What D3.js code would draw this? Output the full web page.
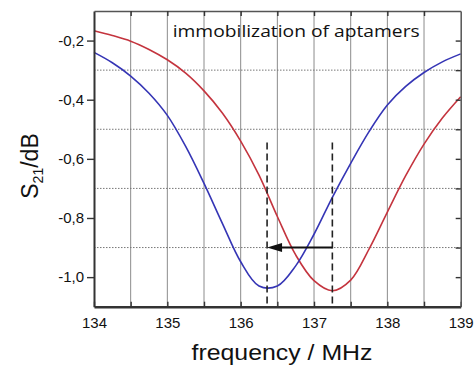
<!DOCTYPE html>
<html>
<head>
<meta charset="utf-8">
<script src="https://cdn.jsdelivr.net/npm/d3@7"></script>
<style>
  body { margin: 0; background: #fff; }
  svg { display: block; }
</style>
</head>
<body>
<svg id="chart" width="475" height="367"></svg>
<script>
// frequency grid (MHz) and transmission values
var freqs = [134, 134.25, 134.5, 134.75, 135, 135.25, 135.5, 135.75, 136, 136.25, 136.5,
             136.75, 137, 137.25, 137.5, 137.75, 138, 138.25, 138.5, 138.75, 139];
// before immobilization (red)
var s21Before = [-0.167, -0.183, -0.202, -0.23, -0.265, -0.31, -0.37, -0.445, -0.54, -0.655, -0.795,
                 -0.925, -1.012, -1.046, -1.01, -0.905, -0.78, -0.657, -0.55, -0.462, -0.39];
// after immobilization of aptamers (blue)
var s21After = [-0.24, -0.275, -0.32, -0.378, -0.453, -0.558, -0.683, -0.818, -0.948, -1.03, -1.03,
                -0.962, -0.855, -0.73, -0.615, -0.508, -0.418, -0.355, -0.308, -0.272, -0.245];

var xTicks = [134, 135, 136, 137, 138, 139];
var yTicks = [-0.2, -0.4, -0.6, -0.8, -1.0];
var hGrid = [-0.3, -0.5, -0.7, -0.9];
var resonances = [136.36, 137.25];   // dashed markers: after, before
var markerTop = -0.545;
var shiftLevel = -0.9;

var svg = d3.select("#chart");
var plotL = 94, plotT = 11, plotR = 460.7, plotB = 306.7;

var x = d3.scaleLinear().domain([134, 139]).range([plotL, plotR]);
var y = d3.scaleLinear().domain([-1.1, -0.1]).range([plotB, plotT]);

var comma = function(d) { return d3.format(".1f")(d).replace(".", ",").replace("−", "-"); };

// grid
var grid = svg.append("g");
grid.selectAll("line.v").data(d3.range(134.5, 139, 0.5)).enter().append("line")
    .attr("x1", function(d) { return x(d); }).attr("x2", function(d) { return x(d); })
    .attr("y1", plotT).attr("y2", plotB)
    .attr("stroke", "#8c8c8c").attr("stroke-width", 1);
grid.selectAll("line.h").data(hGrid).enter().append("line")
    .attr("x1", plotL).attr("x2", plotR)
    .attr("y1", function(d) { return y(d); }).attr("y2", function(d) { return y(d); })
    .attr("stroke", "#777").attr("stroke-width", 1).attr("stroke-dasharray", "1.5,1.5");

// curves
var line = d3.line()
    .x(function(d) { return x(d[0]); })
    .y(function(d) { return y(d[1]); })
    .curve(d3.curveCatmullRom.alpha(0.5));

svg.append("path").datum(d3.zip(freqs, s21Before))
    .attr("d", line).attr("fill", "none")
    .attr("stroke", "#c4343e").attr("stroke-width", 1.6);
svg.append("path").datum(d3.zip(freqs, s21After))
    .attr("d", line).attr("fill", "none")
    .attr("stroke", "#3535b5").attr("stroke-width", 1.6);

// resonance markers
svg.selectAll("line.mark").data(resonances).enter().append("line")
    .attr("x1", function(d) { return x(d); }).attr("x2", function(d) { return x(d); })
    .attr("y1", y(markerTop)).attr("y2", plotB)
    .attr("stroke", "#222").attr("stroke-width", 1.6).attr("stroke-dasharray", "7,4");

// shift arrow
var tipX = x(resonances[0]), tailX = x(resonances[1]), ay = y(shiftLevel);
svg.append("line")
    .attr("x1", tailX).attr("x2", tipX + 12).attr("y1", ay).attr("y2", ay)
    .attr("stroke", "#111").attr("stroke-width", 2);
svg.append("path")
    .attr("d", "M" + tipX + "," + ay + "L" + (tipX + 15) + "," + (ay - 4.5) +
               "L" + (tipX + 15) + "," + (ay + 4.5) + "Z")
    .attr("fill", "#111");

// axes
var axisLeft = d3.axisLeft(y).tickValues(yTicks).tickSize(7).tickSizeOuter(0)
    .tickPadding(3).tickFormat(comma);
var gl = svg.append("g").attr("transform", "translate(" + plotL + ",0)").call(axisLeft);

var axisBottom = d3.axisBottom(x).tickValues(d3.range(134, 139.01, 0.5))
    .tickSize(-5).tickSizeOuter(0).tickPadding(11)
    .tickFormat(function(d) { return xTicks.indexOf(d) >= 0 ? d : ""; });
var gb = svg.append("g").attr("transform", "translate(0," + plotB + ")").call(axisBottom);

var axisTop = d3.axisTop(x).tickValues(d3.range(134.5, 139, 0.5))
    .tickSize(-5).tickSizeOuter(0).tickFormat("");
var gt = svg.append("g").attr("transform", "translate(0," + plotT + ")").call(axisTop);

var axisRight = d3.axisRight(y).tickValues(d3.range(-1.0, -0.15, 0.1))
    .tickSize(-5).tickSizeOuter(0).tickFormat("");
var gr = svg.append("g").attr("transform", "translate(" + plotR + ",0)").call(axisRight);

[gl, gb, gt, gr].forEach(function(g) {
    g.selectAll("text").attr("font-family", "Liberation Sans, Arial, sans-serif")
        .attr("font-size", 15).attr("fill", "#111");
    g.selectAll("line").attr("stroke", "#333").attr("stroke-width", 1.4);
});
gl.select(".domain").attr("stroke", "#333").attr("stroke-width", 2);
gb.select(".domain").attr("stroke", "#333").attr("stroke-width", 2.5);
gt.select(".domain").attr("stroke", "#555").attr("stroke-width", 1.5);
gr.select(".domain").attr("stroke", "#555").attr("stroke-width", 1.5);

// annotation
svg.append("text")
    .attr("x", 172.7).attr("y", 37)
    .attr("font-family", "Open Sans, sans-serif").attr("font-size", 17)
    .attr("fill", "#111")
    .attr("textLength", 247).attr("lengthAdjust", "spacingAndGlyphs")
    .text("immobilization of aptamers");

// axis titles
svg.append("text")
    .attr("x", 282).attr("y", 360).attr("text-anchor", "middle")
    .attr("font-family", "Liberation Sans, Arial, sans-serif").attr("font-size", 22)
    .attr("fill", "#111")
    .attr("textLength", 181).attr("lengthAdjust", "spacingAndGlyphs")
    .text("frequency / MHz");

var yt = svg.append("text")
    .attr("transform", "translate(38,166) rotate(-90)")
    .attr("text-anchor", "middle")
    .attr("font-family", "Liberation Sans, Arial, sans-serif").attr("font-size", 23)
    .attr("fill", "#111");
yt.append("tspan").text("S");
yt.append("tspan").attr("font-size", 14).attr("dy", 5).text("21");
yt.append("tspan").attr("dy", -5).text("/dB");
</script>
</body>
</html>
